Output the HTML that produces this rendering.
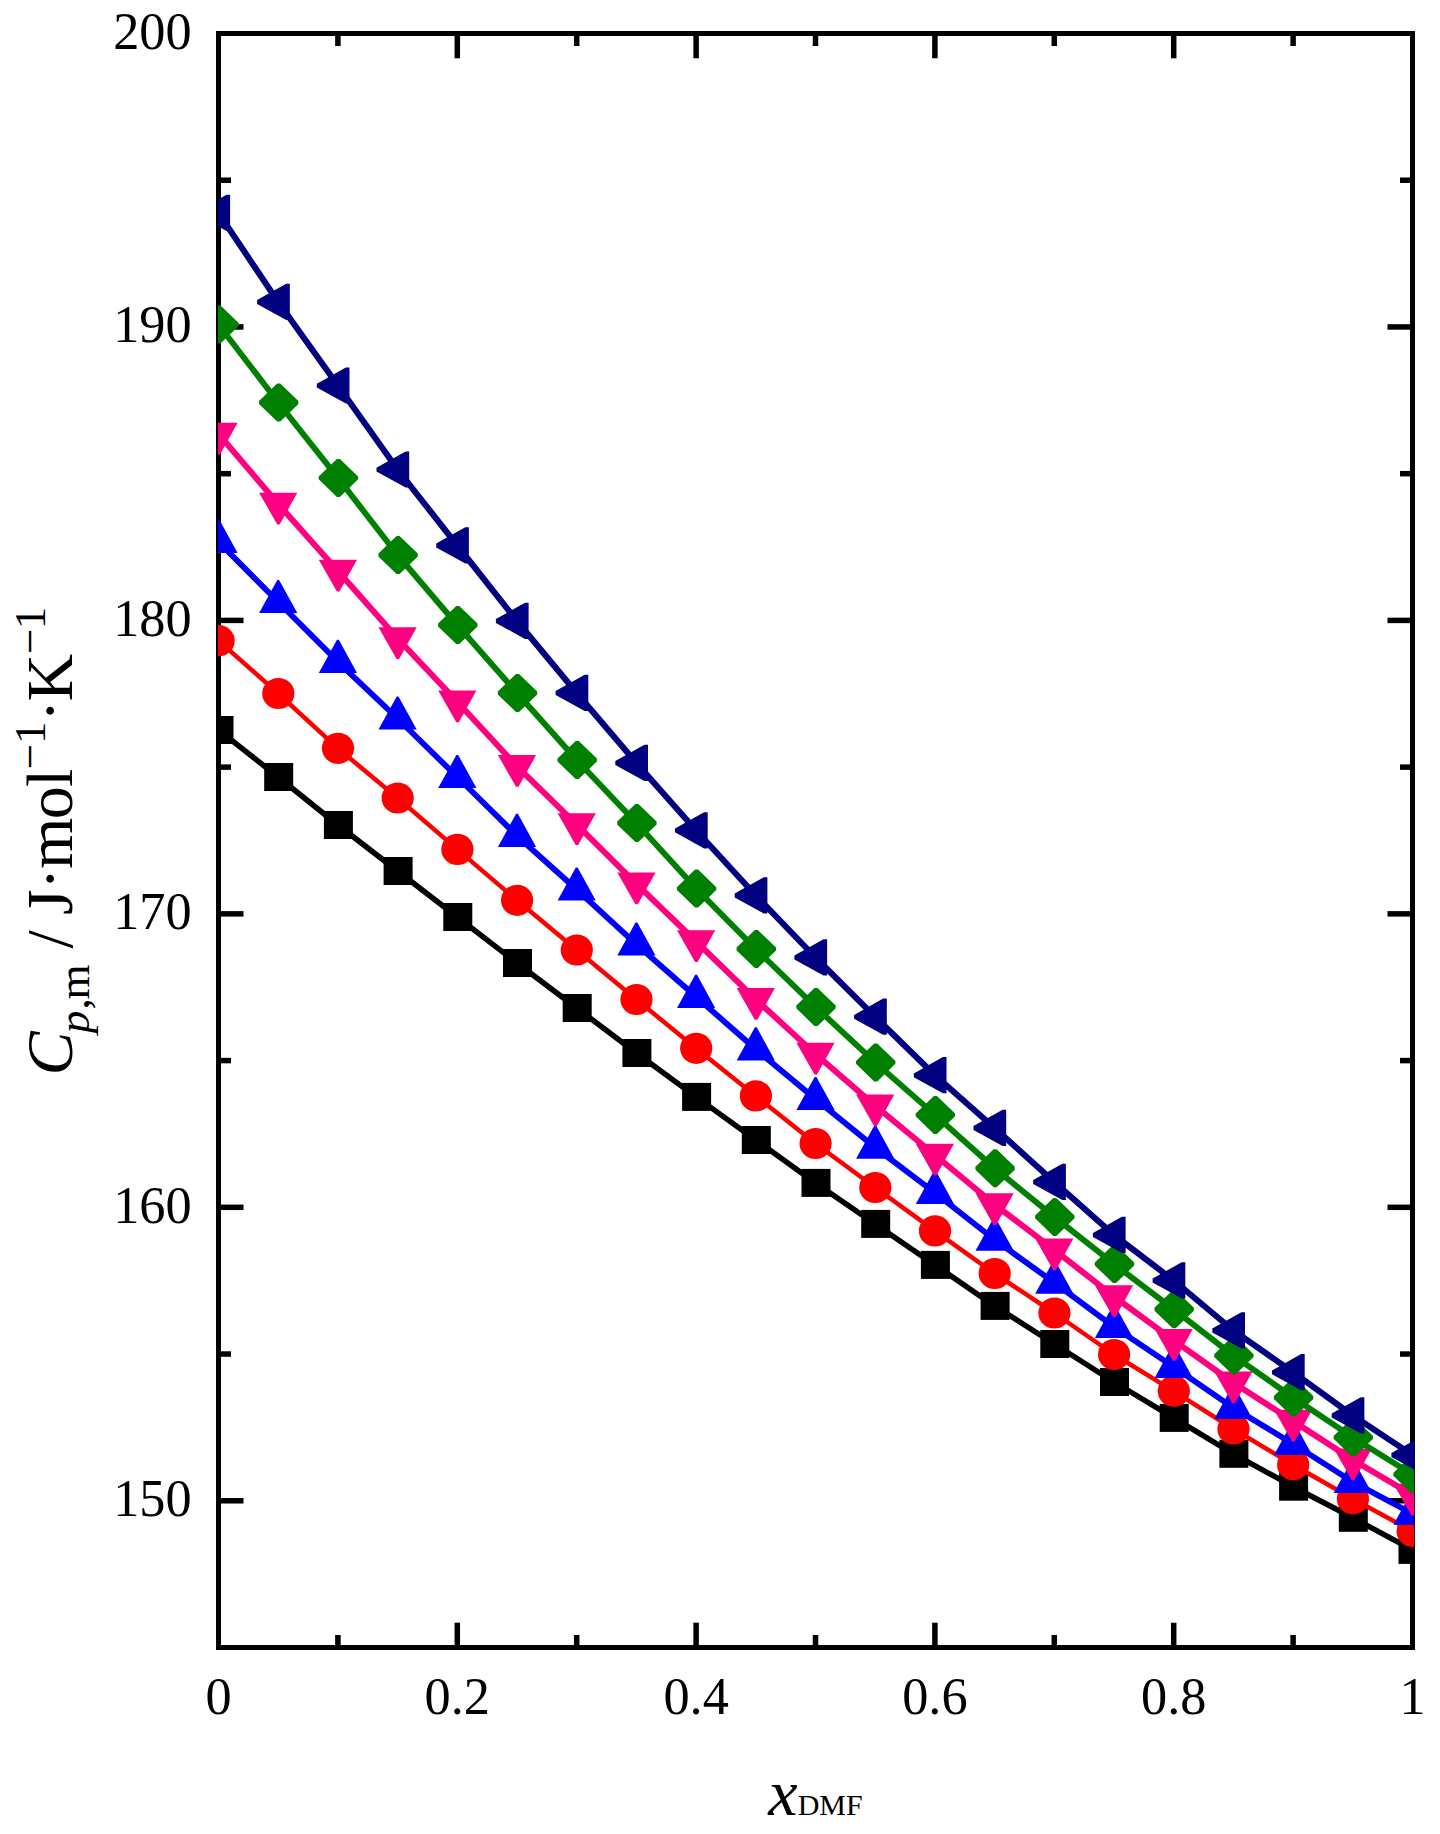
<!DOCTYPE html>
<html><head><meta charset="utf-8"><title>Cp,m vs xDMF</title>
<style>
html,body{margin:0;padding:0;background:#fff;}
svg{display:block;}
text{font-family:"Liberation Serif",serif;fill:#000;-webkit-font-smoothing:antialiased;}
</style></head><body>
<svg width="1440" height="1834" viewBox="0 0 1440 1834">
<rect x="0" y="0" width="1440" height="1834" fill="#fff"/>
<defs><clipPath id="pc"><rect x="218" y="33" width="1196.2" height="1615"/></clipPath></defs>
<g fill="#000" shape-rendering="crispEdges">
<rect x="216" y="31" width="1199" height="5"/>
<rect x="216" y="1645" width="1199" height="5"/>
<rect x="216" y="31" width="5" height="1619"/>
<rect x="1410" y="31" width="5" height="1619"/>
</g>
<g fill="#000">
<rect x="335.15" y="36" width="5.5" height="10"/>
<rect x="335.15" y="1635" width="5.5" height="10"/>
<rect x="454.55" y="36" width="5.5" height="22.3"/>
<rect x="454.55" y="1622.7" width="5.5" height="22.3"/>
<rect x="573.95" y="36" width="5.5" height="10"/>
<rect x="573.95" y="1635" width="5.5" height="10"/>
<rect x="693.35" y="36" width="5.5" height="22.3"/>
<rect x="693.35" y="1622.7" width="5.5" height="22.3"/>
<rect x="812.75" y="36" width="5.5" height="10"/>
<rect x="812.75" y="1635" width="5.5" height="10"/>
<rect x="932.15" y="36" width="5.5" height="22.3"/>
<rect x="932.15" y="1622.7" width="5.5" height="22.3"/>
<rect x="1051.55" y="36" width="5.5" height="10"/>
<rect x="1051.55" y="1635" width="5.5" height="10"/>
<rect x="1170.95" y="36" width="5.5" height="22.3"/>
<rect x="1170.95" y="1622.7" width="5.5" height="22.3"/>
<rect x="1290.35" y="36" width="5.5" height="10"/>
<rect x="1290.35" y="1635" width="5.5" height="10"/>
<rect x="221" y="1498.02" width="22.5" height="5.5"/>
<rect x="1387.5" y="1498.02" width="22.5" height="5.5"/>
<rect x="221" y="1351.3" width="10" height="5.5"/>
<rect x="1400" y="1351.3" width="10" height="5.5"/>
<rect x="221" y="1204.57" width="22.5" height="5.5"/>
<rect x="1387.5" y="1204.57" width="22.5" height="5.5"/>
<rect x="221" y="1057.84" width="10" height="5.5"/>
<rect x="1400" y="1057.84" width="10" height="5.5"/>
<rect x="221" y="911.11" width="22.5" height="5.5"/>
<rect x="1387.5" y="911.11" width="22.5" height="5.5"/>
<rect x="221" y="764.39" width="10" height="5.5"/>
<rect x="1400" y="764.39" width="10" height="5.5"/>
<rect x="221" y="617.66" width="22.5" height="5.5"/>
<rect x="1387.5" y="617.66" width="22.5" height="5.5"/>
<rect x="221" y="470.93" width="10" height="5.5"/>
<rect x="1400" y="470.93" width="10" height="5.5"/>
<rect x="221" y="324.2" width="22.5" height="5.5"/>
<rect x="1387.5" y="324.2" width="22.5" height="5.5"/>
<rect x="221" y="177.48" width="10" height="5.5"/>
<rect x="1400" y="177.48" width="10" height="5.5"/>
</g>
<g clip-path="url(#pc)">
<polyline fill="none" stroke="#000000" stroke-width="5.5" stroke-linejoin="round" points="218.5,730 278.2,777 337.9,825 397.6,871 457.3,917 517,963 576.7,1008 636.4,1053 696.1,1096.9 755.8,1140 815.5,1182.9 875.2,1223.9 934.9,1264.9 994.6,1305.9 1054.3,1344 1114,1382 1173.7,1417.9 1233.4,1453.8 1293.1,1486.7 1352.8,1517.8 1412.5,1549.9"/>
<g fill="#000000">
<rect x="204.5" y="716" width="29" height="28"/>
<rect x="264.2" y="763" width="29" height="28"/>
<rect x="323.9" y="811" width="29" height="28"/>
<rect x="383.6" y="857" width="29" height="28"/>
<rect x="443.3" y="903" width="29" height="28"/>
<rect x="503" y="949" width="29" height="28"/>
<rect x="562.7" y="994" width="29" height="28"/>
<rect x="622.4" y="1039" width="29" height="28"/>
<rect x="682.1" y="1082.9" width="29" height="28"/>
<rect x="741.8" y="1126" width="29" height="28"/>
<rect x="801.5" y="1168.9" width="29" height="28"/>
<rect x="861.2" y="1209.9" width="29" height="28"/>
<rect x="920.9" y="1250.9" width="29" height="28"/>
<rect x="980.6" y="1291.9" width="29" height="28"/>
<rect x="1040.3" y="1330" width="29" height="28"/>
<rect x="1100" y="1368" width="29" height="28"/>
<rect x="1159.7" y="1403.9" width="29" height="28"/>
<rect x="1219.4" y="1439.8" width="29" height="28"/>
<rect x="1279.1" y="1472.7" width="29" height="28"/>
<rect x="1338.8" y="1503.8" width="29" height="28"/>
<rect x="1398.5" y="1535.9" width="29" height="28"/>
</g>
<polyline fill="none" stroke="#ff0000" stroke-width="4.5" stroke-linejoin="round" points="218.5,640.7 278.2,693.5 337.9,748.3 397.6,798 457.3,849.4 517,900.3 576.7,950 636.4,999.5 696.1,1048.3 755.8,1095.9 815.5,1143.5 875.2,1187.5 934.9,1230.9 994.6,1273.5 1054.3,1313 1114,1354.5 1173.7,1391.1 1233.4,1429 1293.1,1464.7 1352.8,1498.8 1412.5,1531.3"/>
<g fill="#ff0000">
<ellipse cx="218.6" cy="640.7" rx="16.1" ry="15.6"/>
<ellipse cx="278.3" cy="693.5" rx="16.1" ry="15.6"/>
<ellipse cx="338" cy="748.3" rx="16.1" ry="15.6"/>
<ellipse cx="397.7" cy="798" rx="16.1" ry="15.6"/>
<ellipse cx="457.4" cy="849.4" rx="16.1" ry="15.6"/>
<ellipse cx="517.1" cy="900.3" rx="16.1" ry="15.6"/>
<ellipse cx="576.8" cy="950" rx="16.1" ry="15.6"/>
<ellipse cx="636.5" cy="999.5" rx="16.1" ry="15.6"/>
<ellipse cx="696.2" cy="1048.3" rx="16.1" ry="15.6"/>
<ellipse cx="755.9" cy="1095.9" rx="16.1" ry="15.6"/>
<ellipse cx="815.6" cy="1143.5" rx="16.1" ry="15.6"/>
<ellipse cx="875.3" cy="1187.5" rx="16.1" ry="15.6"/>
<ellipse cx="935" cy="1230.9" rx="16.1" ry="15.6"/>
<ellipse cx="994.7" cy="1273.5" rx="16.1" ry="15.6"/>
<ellipse cx="1054.4" cy="1313" rx="16.1" ry="15.6"/>
<ellipse cx="1114.1" cy="1354.5" rx="16.1" ry="15.6"/>
<ellipse cx="1173.8" cy="1391.1" rx="16.1" ry="15.6"/>
<ellipse cx="1233.5" cy="1429" rx="16.1" ry="15.6"/>
<ellipse cx="1293.2" cy="1464.7" rx="16.1" ry="15.6"/>
<ellipse cx="1352.9" cy="1498.8" rx="16.1" ry="15.6"/>
<ellipse cx="1412.6" cy="1531.3" rx="16.1" ry="15.6"/>
</g>
<polyline fill="none" stroke="#0000ff" stroke-width="5.8" stroke-linejoin="round" points="218.5,541.8 278.2,602 337.9,661.8 397.6,718.5 457.3,777 517,835.8 576.7,889.5 636.4,944.4 696.1,996.8 755.8,1049.3 815.5,1099 875.2,1147.6 934.9,1192.8 994.6,1239.7 1054.3,1282.7 1114,1326.9 1173.7,1366.8 1233.4,1407.8 1293.1,1443.9 1352.8,1481.9 1412.5,1513.7"/>
<g fill="#0000ff">
<polygon points="217.6,519.8 219.4,519.8 237.6,552.9 199.4,552.9"/>
<polygon points="277.3,580 279.1,580 297.3,613.1 259.1,613.1"/>
<polygon points="337,639.8 338.8,639.8 357,672.9 318.8,672.9"/>
<polygon points="396.7,696.5 398.5,696.5 416.7,729.6 378.5,729.6"/>
<polygon points="456.4,755 458.2,755 476.4,788.1 438.2,788.1"/>
<polygon points="516.1,813.8 517.9,813.8 536.1,846.9 497.9,846.9"/>
<polygon points="575.8,867.5 577.6,867.5 595.8,900.6 557.6,900.6"/>
<polygon points="635.5,922.4 637.3,922.4 655.5,955.5 617.3,955.5"/>
<polygon points="695.2,974.8 697,974.8 715.2,1007.9 677,1007.9"/>
<polygon points="754.9,1027.3 756.7,1027.3 774.9,1060.4 736.7,1060.4"/>
<polygon points="814.6,1077 816.4,1077 834.6,1110.1 796.4,1110.1"/>
<polygon points="874.3,1125.6 876.1,1125.6 894.3,1158.7 856.1,1158.7"/>
<polygon points="934,1170.8 935.8,1170.8 954,1203.9 915.8,1203.9"/>
<polygon points="993.7,1217.7 995.5,1217.7 1013.7,1250.8 975.5,1250.8"/>
<polygon points="1053.4,1260.7 1055.2,1260.7 1073.4,1293.8 1035.2,1293.8"/>
<polygon points="1113.1,1304.9 1114.9,1304.9 1133.1,1338 1094.9,1338"/>
<polygon points="1172.8,1344.8 1174.6,1344.8 1192.8,1377.9 1154.6,1377.9"/>
<polygon points="1232.5,1385.8 1234.3,1385.8 1252.5,1418.9 1214.3,1418.9"/>
<polygon points="1292.2,1421.9 1294,1421.9 1312.2,1455 1274,1455"/>
<polygon points="1351.9,1459.9 1353.7,1459.9 1371.9,1493 1333.7,1493"/>
<polygon points="1411.6,1491.7 1413.4,1491.7 1431.6,1524.8 1393.4,1524.8"/>
</g>
<polyline fill="none" stroke="#ff0080" stroke-width="6" stroke-linejoin="round" points="218.5,434 278.2,504 337.9,571 397.6,638.5 457.3,701.8 517,766.4 576.7,824.6 636.4,883.8 696.1,941.5 755.8,999.4 815.5,1054.1 875.2,1105.8 934.9,1155 994.6,1204.5 1054.3,1249.9 1114,1296.5 1173.7,1340.4 1233.4,1382.8 1293.1,1421.1 1352.8,1459.8 1412.5,1495"/>
<g fill="#ff0080">
<polygon points="199.4,422.7 237.6,422.7 220,454.4 217.5,454.4"/>
<polygon points="259.1,492.7 297.3,492.7 279.7,524.4 277.2,524.4"/>
<polygon points="318.8,559.7 357,559.7 339.4,591.4 336.9,591.4"/>
<polygon points="378.5,627.2 416.7,627.2 399.1,658.9 396.6,658.9"/>
<polygon points="438.2,690.5 476.4,690.5 458.8,722.2 456.3,722.2"/>
<polygon points="497.9,755.1 536.1,755.1 518.5,786.8 516,786.8"/>
<polygon points="557.6,813.3 595.8,813.3 578.2,845 575.7,845"/>
<polygon points="617.3,872.5 655.5,872.5 637.9,904.2 635.4,904.2"/>
<polygon points="677,930.2 715.2,930.2 697.6,961.9 695.1,961.9"/>
<polygon points="736.7,988.1 774.9,988.1 757.3,1019.8 754.8,1019.8"/>
<polygon points="796.4,1042.8 834.6,1042.8 817,1074.5 814.5,1074.5"/>
<polygon points="856.1,1094.5 894.3,1094.5 876.7,1126.2 874.2,1126.2"/>
<polygon points="915.8,1143.7 954,1143.7 936.4,1175.4 933.9,1175.4"/>
<polygon points="975.5,1193.2 1013.7,1193.2 996.1,1224.9 993.6,1224.9"/>
<polygon points="1035.2,1238.6 1073.4,1238.6 1055.8,1270.3 1053.3,1270.3"/>
<polygon points="1094.9,1285.2 1133.1,1285.2 1115.5,1316.9 1113,1316.9"/>
<polygon points="1154.6,1329.1 1192.8,1329.1 1175.2,1360.8 1172.7,1360.8"/>
<polygon points="1214.3,1371.5 1252.5,1371.5 1234.9,1403.2 1232.4,1403.2"/>
<polygon points="1274,1409.8 1312.2,1409.8 1294.6,1441.5 1292.1,1441.5"/>
<polygon points="1333.7,1448.5 1371.9,1448.5 1354.3,1480.2 1351.8,1480.2"/>
<polygon points="1393.4,1483.7 1431.6,1483.7 1414,1515.4 1411.5,1515.4"/>
</g>
<polyline fill="none" stroke="#008000" stroke-width="5.9" stroke-linejoin="round" points="218.5,324.5 278.2,402.5 337.9,477.9 397.6,555 457.3,625 517,693 576.7,760 636.4,823 696.1,888.6 755.8,949 815.5,1006.9 875.2,1062.4 934.9,1114.9 994.6,1168.3 1054.3,1216.9 1114,1264 1173.7,1309.3 1233.4,1355.6 1293.1,1397.5 1352.8,1437.4 1412.5,1474.4"/>
<g fill="#008000">
<polygon points="217.5,305.5 220.5,305.5 238.7,323.05 238.7,325.95 220.5,343.5 217.5,343.5 199.3,325.95 199.3,323.05"/>
<polygon points="277.2,383.5 280.2,383.5 298.4,401.05 298.4,403.95 280.2,421.5 277.2,421.5 259,403.95 259,401.05"/>
<polygon points="336.9,458.9 339.9,458.9 358.1,476.45 358.1,479.35 339.9,496.9 336.9,496.9 318.7,479.35 318.7,476.45"/>
<polygon points="396.6,536 399.6,536 417.8,553.55 417.8,556.45 399.6,574 396.6,574 378.4,556.45 378.4,553.55"/>
<polygon points="456.3,606 459.3,606 477.5,623.55 477.5,626.45 459.3,644 456.3,644 438.1,626.45 438.1,623.55"/>
<polygon points="516,674 519,674 537.2,691.55 537.2,694.45 519,712 516,712 497.8,694.45 497.8,691.55"/>
<polygon points="575.7,741 578.7,741 596.9,758.55 596.9,761.45 578.7,779 575.7,779 557.5,761.45 557.5,758.55"/>
<polygon points="635.4,804 638.4,804 656.6,821.55 656.6,824.45 638.4,842 635.4,842 617.2,824.45 617.2,821.55"/>
<polygon points="695.1,869.6 698.1,869.6 716.3,887.15 716.3,890.05 698.1,907.6 695.1,907.6 676.9,890.05 676.9,887.15"/>
<polygon points="754.8,930 757.8,930 776,947.55 776,950.45 757.8,968 754.8,968 736.6,950.45 736.6,947.55"/>
<polygon points="814.5,987.9 817.5,987.9 835.7,1005.45 835.7,1008.35 817.5,1025.9 814.5,1025.9 796.3,1008.35 796.3,1005.45"/>
<polygon points="874.2,1043.4 877.2,1043.4 895.4,1060.95 895.4,1063.85 877.2,1081.4 874.2,1081.4 856,1063.85 856,1060.95"/>
<polygon points="933.9,1095.9 936.9,1095.9 955.1,1113.45 955.1,1116.35 936.9,1133.9 933.9,1133.9 915.7,1116.35 915.7,1113.45"/>
<polygon points="993.6,1149.3 996.6,1149.3 1014.8,1166.85 1014.8,1169.75 996.6,1187.3 993.6,1187.3 975.4,1169.75 975.4,1166.85"/>
<polygon points="1053.3,1197.9 1056.3,1197.9 1074.5,1215.45 1074.5,1218.35 1056.3,1235.9 1053.3,1235.9 1035.1,1218.35 1035.1,1215.45"/>
<polygon points="1113,1245 1116,1245 1134.2,1262.55 1134.2,1265.45 1116,1283 1113,1283 1094.8,1265.45 1094.8,1262.55"/>
<polygon points="1172.7,1290.3 1175.7,1290.3 1193.9,1307.85 1193.9,1310.75 1175.7,1328.3 1172.7,1328.3 1154.5,1310.75 1154.5,1307.85"/>
<polygon points="1232.4,1336.6 1235.4,1336.6 1253.6,1354.15 1253.6,1357.05 1235.4,1374.6 1232.4,1374.6 1214.2,1357.05 1214.2,1354.15"/>
<polygon points="1292.1,1378.5 1295.1,1378.5 1313.3,1396.05 1313.3,1398.95 1295.1,1416.5 1292.1,1416.5 1273.9,1398.95 1273.9,1396.05"/>
<polygon points="1351.8,1418.4 1354.8,1418.4 1373,1435.95 1373,1438.85 1354.8,1456.4 1351.8,1456.4 1333.6,1438.85 1333.6,1435.95"/>
<polygon points="1411.5,1455.4 1414.5,1455.4 1432.7,1472.95 1432.7,1475.85 1414.5,1493.4 1411.5,1493.4 1393.3,1475.85 1393.3,1472.95"/>
</g>
<polyline fill="none" stroke="#000080" stroke-width="6.1" stroke-linejoin="round" points="218.5,213 278.2,302 337.9,385.6 397.6,469.6 457.3,545.5 517,621 576.7,693 636.4,763 696.1,830.4 755.8,895.5 815.5,957.5 875.2,1016.8 934.9,1075.3 994.6,1128 1054.3,1182 1114,1235 1173.7,1280.5 1233.4,1330.5 1293.1,1372.3 1352.8,1415.5 1412.5,1455"/>
<g fill="#000080">
<polygon points="197.4,211.1 226.5,194.8 230.1,194.8 230.1,231 226.5,231 197.4,214.9"/>
<polygon points="257.1,300.1 286.2,283.8 289.8,283.8 289.8,320 286.2,320 257.1,303.9"/>
<polygon points="316.8,383.7 345.9,367.4 349.5,367.4 349.5,403.6 345.9,403.6 316.8,387.5"/>
<polygon points="376.5,467.7 405.6,451.4 409.2,451.4 409.2,487.6 405.6,487.6 376.5,471.5"/>
<polygon points="436.2,543.6 465.3,527.3 468.9,527.3 468.9,563.5 465.3,563.5 436.2,547.4"/>
<polygon points="495.9,619.1 525,602.8 528.6,602.8 528.6,639 525,639 495.9,622.9"/>
<polygon points="555.6,691.1 584.7,674.8 588.3,674.8 588.3,711 584.7,711 555.6,694.9"/>
<polygon points="615.3,761.1 644.4,744.8 648,744.8 648,781 644.4,781 615.3,764.9"/>
<polygon points="675,828.5 704.1,812.2 707.7,812.2 707.7,848.4 704.1,848.4 675,832.3"/>
<polygon points="734.7,893.6 763.8,877.3 767.4,877.3 767.4,913.5 763.8,913.5 734.7,897.4"/>
<polygon points="794.4,955.6 823.5,939.3 827.1,939.3 827.1,975.5 823.5,975.5 794.4,959.4"/>
<polygon points="854.1,1014.9 883.2,998.6 886.8,998.6 886.8,1034.8 883.2,1034.8 854.1,1018.7"/>
<polygon points="913.8,1073.4 942.9,1057.1 946.5,1057.1 946.5,1093.3 942.9,1093.3 913.8,1077.2"/>
<polygon points="973.5,1126.1 1002.6,1109.8 1006.2,1109.8 1006.2,1146 1002.6,1146 973.5,1129.9"/>
<polygon points="1033.2,1180.1 1062.3,1163.8 1065.9,1163.8 1065.9,1200 1062.3,1200 1033.2,1183.9"/>
<polygon points="1092.9,1233.1 1122,1216.8 1125.6,1216.8 1125.6,1253 1122,1253 1092.9,1236.9"/>
<polygon points="1152.6,1278.6 1181.7,1262.3 1185.3,1262.3 1185.3,1298.5 1181.7,1298.5 1152.6,1282.4"/>
<polygon points="1212.3,1328.6 1241.4,1312.3 1245,1312.3 1245,1348.5 1241.4,1348.5 1212.3,1332.4"/>
<polygon points="1272,1370.4 1301.1,1354.1 1304.7,1354.1 1304.7,1390.3 1301.1,1390.3 1272,1374.2"/>
<polygon points="1331.7,1413.6 1360.8,1397.3 1364.4,1397.3 1364.4,1433.5 1360.8,1433.5 1331.7,1417.4"/>
<polygon points="1391.4,1453.1 1420.5,1436.8 1424.1,1436.8 1424.1,1473 1420.5,1473 1391.4,1456.9"/>
</g>
</g>
<text x="191.6" y="1515.97" font-size="52.3" text-anchor="end">150</text>
<text x="191.6" y="1222.52" font-size="52.3" text-anchor="end">160</text>
<text x="191.6" y="929.06" font-size="52.3" text-anchor="end">170</text>
<text x="191.6" y="635.61" font-size="52.3" text-anchor="end">180</text>
<text x="191.6" y="342.15" font-size="52.3" text-anchor="end">190</text>
<text x="191.6" y="48.7" font-size="52.3" text-anchor="end">200</text>
<text x="218.5" y="1714.4" font-size="52.3" text-anchor="middle">0</text>
<text x="457.3" y="1714.4" font-size="52.3" text-anchor="middle">0.2</text>
<text x="696.1" y="1714.4" font-size="52.3" text-anchor="middle">0.4</text>
<text x="934.9" y="1714.4" font-size="52.3" text-anchor="middle">0.6</text>
<text x="1173.7" y="1714.4" font-size="52.3" text-anchor="middle">0.8</text>
<text x="1412.5" y="1714.4" font-size="52.3" text-anchor="middle">1</text>
<text x="815.5" y="1815" font-size="66" text-anchor="middle"><tspan font-style="italic">x</tspan><tspan font-size="30">DMF</tspan></text>
<g transform="translate(72.2,0) rotate(-90)">
<text x="-1075.5" y="0" font-size="66" font-style="italic">C</text>
<text x="-1033.25" y="17.1" font-size="45" font-style="italic">p</text>
<text x="-1009.5" y="17.1" font-size="45">,</text>
<text x="-999.4" y="17.1" font-size="45">m</text>
<text x="-948.4" y="0" font-size="66">/</text>
<text x="-915.1" y="0" font-size="66">J</text>
<text x="-889.7" y="0" font-size="66">·</text>
<text x="-869" y="0" font-size="66">m</text>
<text x="-819.35" y="0" font-size="66">o</text>
<text x="-787.05" y="0" font-size="66">l</text>
<text x="-769.15" y="-27.5" font-size="45">−</text>
<text x="-744.05" y="-27.5" font-size="45">1</text>
<text x="-721.8" y="0" font-size="66">·</text>
<text x="-701.55" y="0" font-size="66">K</text>
<text x="-653.95" y="-27.5" font-size="45">−</text>
<text x="-629.2" y="-27.5" font-size="45">1</text>
</g>
</svg>
</body></html>
